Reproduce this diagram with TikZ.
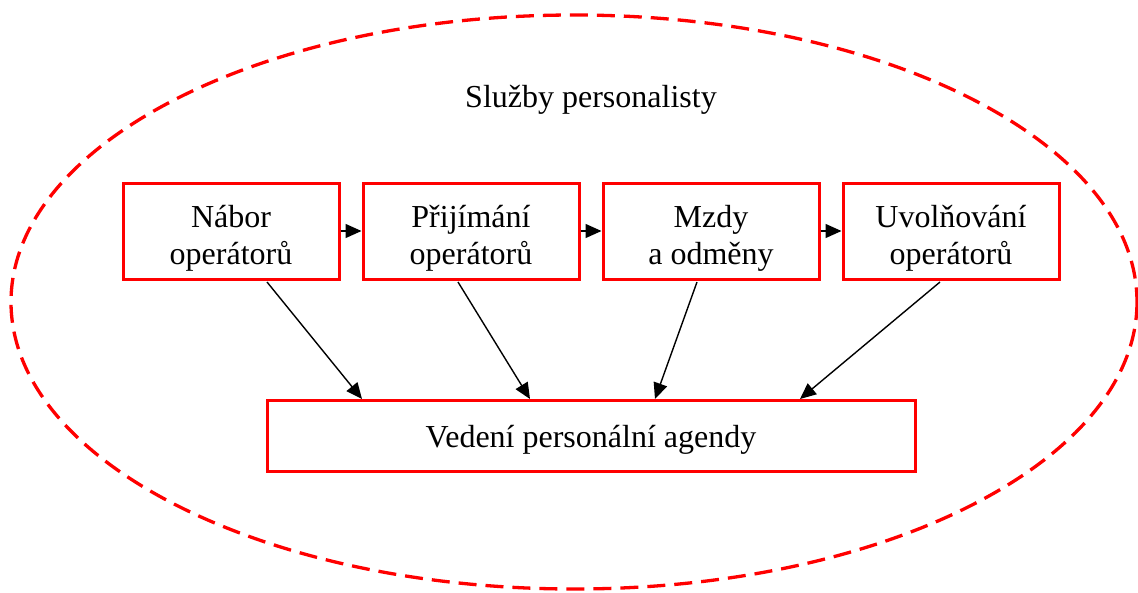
\documentclass[tikz,border=0pt]{standalone}
\usepackage{fontspec}
\setmainfont{Liberation Serif}
\usetikzlibrary{arrows.meta}
\begin{document}
\begin{tikzpicture}[x=1pt,y=-1pt,
  box/.style={draw=red,line width=3pt,fill=white,inner sep=0pt},
  txt/.style={align=center,inner sep=0pt,font=\fontsize{32}{37}\selectfont},
  conn/.style={line width=1.4pt,-{Triangle[length=16pt,width=14pt]}}]
\useasboundingbox (0,0) rectangle (1138,592);
\draw[red,line width=3.3pt,dash pattern=on 18pt off 9pt] (574,302) ellipse [x radius=563, y radius=287];
\node[txt] (title) at (591,100) {Služby personalisty};
\node[box,minimum width=216pt,minimum height=96pt] (n1) at (231,231) {};
\node[box,minimum width=216pt,minimum height=96pt] (n2) at (471,231) {};
\node[box,minimum width=216pt,minimum height=96pt] (n3) at (711,231) {};
\node[box,minimum width=216pt,minimum height=96pt] (n4) at (951,231) {};
\node[box,minimum width=648pt,minimum height=71pt] (v) at (591,435.5) {};
\node[txt] (t1) at ([yshift=-7pt]n1.center) {Nábor\\operátorů};
\node[txt] (t2) at ([yshift=-7pt]n2.center) {Přijímání\\operátorů};
\node[txt] (t3) at ([yshift=-7pt]n3.center) {Mzdy\\a odměny};
\node[txt] (t4) at ([yshift=-7pt]n4.center) {Uvolňování\\operátorů};
\node[txt] (tv) at ([yshift=-4pt]v.center) {Vedení personální agendy};
\draw[conn] (n1.east) -- (n2.west);
\draw[conn] (n2.east) -- (n3.west);
\draw[conn] (n3.east) -- (n4.west);
\coordinate (a1) at (267,282);
\coordinate (a2) at (458,282);
\coordinate (a3) at (697,282);
\coordinate (a4) at (940,282);
\coordinate (b1) at (362,399);
\coordinate (b2) at (530,399);
\coordinate (b3) at (655,399);
\coordinate (b4) at (800,399);
\draw[conn] (a1) -- (b1);
\draw[conn] (a2) -- (b2);
\draw[conn] (a3) -- (b3);
\draw[conn] (a4) -- (b4);
\end{tikzpicture}
\end{document}
